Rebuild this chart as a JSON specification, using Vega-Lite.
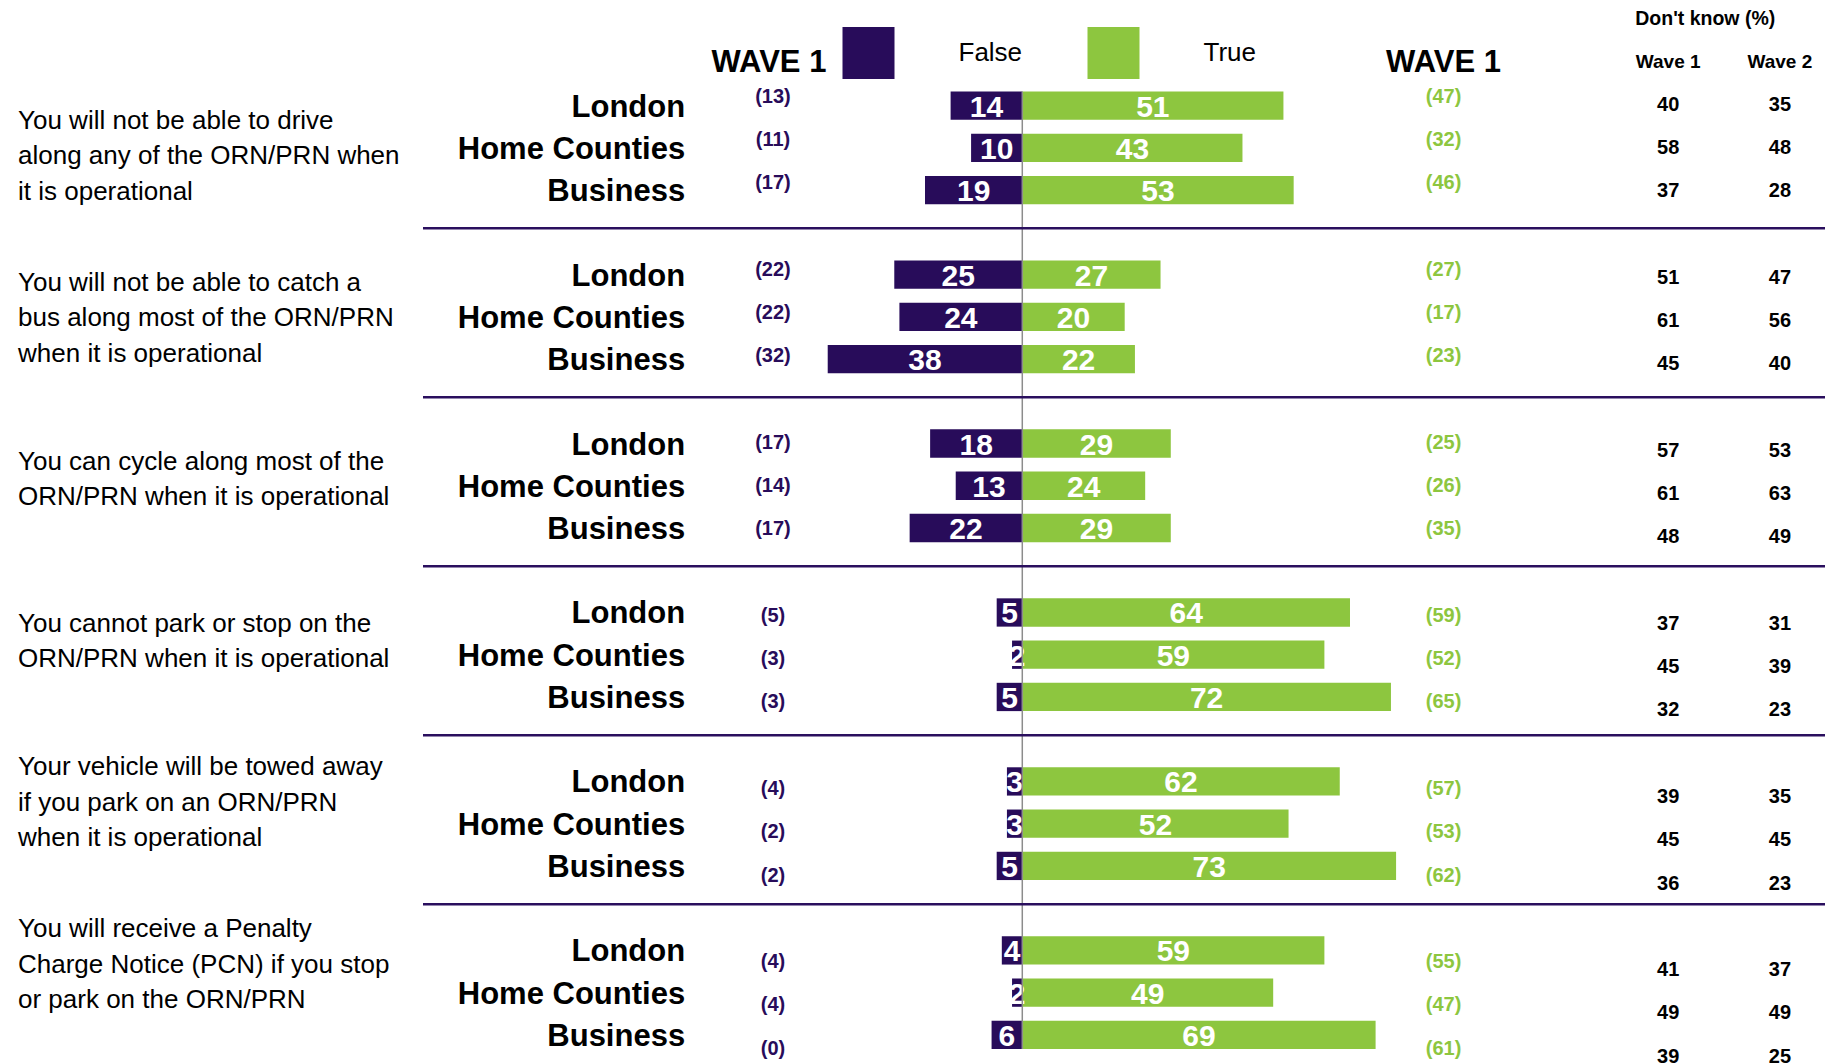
{
  "$schema": "https://vega.github.io/schema/vega-lite/v6.json",
  "background": "white",
  "padding": {"left": 18, "top": 0, "right": 0, "bottom": 0},
  "spacing": 0,
  "bounds": "flush",
  "config": {
    "view": {"stroke": null},
    "font": "Liberation Sans",
    "text": {"font": "Liberation Sans"},
    "axis": {"disable": true}
  },
  "datasets": {
    "rows": [
      {"row": "Q1 London", "group": "London", "falsePct": 14, "truePct": 51, "nFalse": 13, "nTrue": 47, "dk1": 40, "dk2": 35},
      {"row": "Q1 Home Counties", "group": "Home Counties", "falsePct": 10, "truePct": 43, "nFalse": 11, "nTrue": 32, "dk1": 58, "dk2": 48},
      {"row": "Q1 Business", "group": "Business", "falsePct": 19, "truePct": 53, "nFalse": 17, "nTrue": 46, "dk1": 37, "dk2": 28},
      {"row": "Q2 London", "group": "London", "falsePct": 25, "truePct": 27, "nFalse": 22, "nTrue": 27, "dk1": 51, "dk2": 47},
      {"row": "Q2 Home Counties", "group": "Home Counties", "falsePct": 24, "truePct": 20, "nFalse": 22, "nTrue": 17, "dk1": 61, "dk2": 56},
      {"row": "Q2 Business", "group": "Business", "falsePct": 38, "truePct": 22, "nFalse": 32, "nTrue": 23, "dk1": 45, "dk2": 40},
      {"row": "Q3 London", "group": "London", "falsePct": 18, "truePct": 29, "nFalse": 17, "nTrue": 25, "dk1": 57, "dk2": 53},
      {"row": "Q3 Home Counties", "group": "Home Counties", "falsePct": 13, "truePct": 24, "nFalse": 14, "nTrue": 26, "dk1": 61, "dk2": 63},
      {"row": "Q3 Business", "group": "Business", "falsePct": 22, "truePct": 29, "nFalse": 17, "nTrue": 35, "dk1": 48, "dk2": 49},
      {"row": "Q4 London", "group": "London", "falsePct": 5, "truePct": 64, "nFalse": 5, "nTrue": 59, "dk1": 37, "dk2": 31},
      {"row": "Q4 Home Counties", "group": "Home Counties", "falsePct": 2, "truePct": 59, "nFalse": 3, "nTrue": 52, "dk1": 45, "dk2": 39},
      {"row": "Q4 Business", "group": "Business", "falsePct": 5, "truePct": 72, "nFalse": 3, "nTrue": 65, "dk1": 32, "dk2": 23},
      {"row": "Q5 London", "group": "London", "falsePct": 3, "truePct": 62, "nFalse": 4, "nTrue": 57, "dk1": 39, "dk2": 35},
      {"row": "Q5 Home Counties", "group": "Home Counties", "falsePct": 3, "truePct": 52, "nFalse": 2, "nTrue": 53, "dk1": 45, "dk2": 45},
      {"row": "Q5 Business", "group": "Business", "falsePct": 5, "truePct": 73, "nFalse": 2, "nTrue": 62, "dk1": 36, "dk2": 23},
      {"row": "Q6 London", "group": "London", "falsePct": 4, "truePct": 59, "nFalse": 4, "nTrue": 55, "dk1": 41, "dk2": 37},
      {"row": "Q6 Home Counties", "group": "Home Counties", "falsePct": 2, "truePct": 49, "nFalse": 4, "nTrue": 47, "dk1": 49, "dk2": 49},
      {"row": "Q6 Business", "group": "Business", "falsePct": 6, "truePct": 69, "nFalse": 0, "nTrue": 61, "dk1": 39, "dk2": 25}
    ],
    "seps": [{"row": "gap1"}, {"row": "gap2"}, {"row": "gap3"}, {"row": "gap4"}, {"row": "gap5"}],
    "questions": [
      {"q": "Q1", "text": "You will not be able to drive\nalong any of the ORN/PRN when\nit is operational"},
      {"q": "Q2", "text": "You will not be able to catch a\nbus along most of the ORN/PRN\nwhen it is operational"},
      {"q": "Q3", "text": "You can cycle along most of the\nORN/PRN when it is operational"},
      {"q": "Q4", "text": "You cannot park or stop on the\nORN/PRN when it is operational"},
      {"q": "Q5", "text": "Your vehicle will be towed away\nif you park on an ORN/PRN\nwhen it is operational"},
      {"q": "Q6", "text": "You will receive a Penalty\nCharge Notice (PCN) if you stop\nor park on the ORN/PRN"}
    ]
  },
  "hconcat": [
    {
      "width": 405,
      "height": 1056,
      "data": {"name": "questions"},
      "layer": [
        {
          "transform": [{"filter": {"field": "q", "oneOf": ["Q1", "Q2", "Q5", "Q6"]}}],
          "mark": {"type": "text", "align": "left", "baseline": "middle", "fontSize": 26, "lineHeight": 35.5, "lineBreak": "\n", "fill": "black", "dy": -35.5},
          "encoding": {
            "x": {"value": 0},
            "y": {"field": "q", "type": "nominal", "axis": null, "scale": {"type": "point", "domain": ["Q1", "Q2", "Q3", "Q4", "Q5", "Q6"], "padding": 0.767, "align": 0.631}},
            "text": {"field": "text"}
          }
        },
        {
          "transform": [{"filter": {"field": "q", "oneOf": ["Q3", "Q4"]}}],
          "mark": {"type": "text", "align": "left", "baseline": "middle", "fontSize": 26, "lineHeight": 35.5, "lineBreak": "\n", "fill": "black", "dy": -17.75},
          "encoding": {
            "x": {"value": 0},
            "y": {"field": "q", "type": "nominal", "axis": null, "scale": {"type": "point", "domain": ["Q1", "Q2", "Q3", "Q4", "Q5", "Q6"], "padding": 0.767, "align": 0.631}},
            "text": {"field": "text"}
          }
        }
      ]
    },
    {
      "width": 264,
      "height": 1056,
      "encoding": {
        "y": {"field": "row", "type": "nominal", "axis": null, "scale": {"type": "band", "domain": ["top", "header", "Q1 London", "Q1 Home Counties", "Q1 Business", "gap1", "Q2 London", "Q2 Home Counties", "Q2 Business", "gap2", "Q3 London", "Q3 Home Counties", "Q3 Business", "gap3", "Q4 London", "Q4 Home Counties", "Q4 Business", "gap4", "Q5 London", "Q5 Home Counties", "Q5 Business", "gap5", "Q6 London", "Q6 Home Counties", "Q6 Business"], "paddingInner": 0.33, "paddingOuter": 0.165}}
      },
      "layer": [
        {
          "data": {"name": "rows"},
          "mark": {"type": "text", "align": "right", "baseline": "middle", "fontSize": 31, "fontWeight": "bold", "fill": "black", "dy": 2},
          "encoding": {
            "x": {"datum": "label", "type": "nominal", "axis": null, "scale": {"type": "point", "domain": ["label"], "align": 0.993}},
            "text": {"field": "group"}
          }
        },
        {
          "data": {"name": "seps"},
          "mark": {"type": "rule", "stroke": "#2a0f5e", "strokeWidth": 2.5},
          "encoding": {
            "y": {"field": "row", "type": "nominal", "axis": null, "bandPosition": 0.36}
          }
        }
      ]
    },
    {
      "width": 140,
      "height": 1056,
      "resolve": {"scale": {"y": "independent"}},
      "layer": [
        {
          "data": {"name": "rows"},
          "mark": {"type": "text", "align": "center", "baseline": "middle", "fontSize": 20, "fontWeight": "bold", "fill": "#280c5a", "dy": -7},
          "encoding": {
            "x": {"datum": "n", "type": "nominal", "axis": null, "scale": {"type": "point", "domain": ["n"], "align": 0.614}},
            "y": {"field": "row", "type": "nominal", "axis": null, "scale": {"type": "point", "domain": ["top", "header", "Q1 London", "Q1 Home Counties", "Q1 Business", "gap1", "Q2 London", "Q2 Home Counties", "Q2 Business", "gap2", "Q3 London", "Q3 Home Counties", "Q3 Business", "gap3", "Q4 London", "Q4 Home Counties", "Q4 Business", "gap4", "Q5 London", "Q5 Home Counties", "Q5 Business", "gap5", "Q6 London", "Q6 Home Counties", "Q6 Business"], "padding": 0.2, "align": 0.982}},
            "text": {"value": {"expr": "'(' + datum.nFalse + ')'"}}
          }
        },
        {
          "data": {"values": [{"row": "header", "label": "WAVE 1"}]},
          "mark": {"type": "text", "align": "center", "baseline": "middle", "fontSize": 31, "fontWeight": "bold", "fill": "black", "dy": 3, "dx": -4},
          "encoding": {
            "x": {"datum": "n", "type": "nominal", "axis": null, "scale": {"type": "point", "domain": ["n"], "align": 0.614}},
            "y": {"field": "row", "type": "nominal", "axis": null, "scale": {"type": "point", "domain": ["top", "header", "Q1 London", "Q1 Home Counties", "Q1 Business", "gap1", "Q2 London", "Q2 Home Counties", "Q2 Business", "gap2", "Q3 London", "Q3 Home Counties", "Q3 Business", "gap3", "Q4 London", "Q4 Home Counties", "Q4 Business", "gap4", "Q5 London", "Q5 Home Counties", "Q5 Business", "gap5", "Q6 London", "Q6 Home Counties", "Q6 Business"], "padding": 0.2, "align": 0.982}},
            "text": {"field": "label"}
          }
        },
        {
          "data": {"name": "seps"},
          "mark": {"type": "rule", "stroke": "#2a0f5e", "strokeWidth": 2.5},
          "encoding": {
            "y": {"field": "row", "type": "nominal", "axis": null, "bandPosition": 0.36, "scale": {"type": "band", "domain": ["top", "header", "Q1 London", "Q1 Home Counties", "Q1 Business", "gap1", "Q2 London", "Q2 Home Counties", "Q2 Business", "gap2", "Q3 London", "Q3 Home Counties", "Q3 Business", "gap3", "Q4 London", "Q4 Home Counties", "Q4 Business", "gap4", "Q5 London", "Q5 Home Counties", "Q5 Business", "gap5", "Q6 London", "Q6 Home Counties", "Q6 Business"], "paddingInner": 0.33, "paddingOuter": 0.165}}
          }
        }
      ]
    },
    {
      "width": 570,
      "height": 1056,
      "resolve": {"scale": {"x": "independent"}},
      "encoding": {
        "y": {"field": "row", "type": "nominal", "axis": null, "scale": {"type": "band", "domain": ["top", "header", "Q1 London", "Q1 Home Counties", "Q1 Business", "gap1", "Q2 London", "Q2 Home Counties", "Q2 Business", "gap2", "Q3 London", "Q3 Home Counties", "Q3 Business", "gap3", "Q4 London", "Q4 Home Counties", "Q4 Business", "gap4", "Q5 London", "Q5 Home Counties", "Q5 Business", "gap5", "Q6 London", "Q6 Home Counties", "Q6 Business"], "paddingInner": 0.33, "paddingOuter": 0.165}}
      },
      "layer": [
        {
          "data": {"name": "rows"},
          "mark": {"type": "bar"},
          "encoding": {
            "x": {"field": "falsePct", "type": "quantitative", "axis": null, "scale": {"domain": [-73.18, 38.14], "reverse": true, "nice": false, "zero": false}},
            "color": {"datum": "False", "type": "nominal", "scale": {"domain": ["False", "True"], "range": ["#280c5a", "#8dc63f"]}, "legend": {"title": null, "orient": "none", "legendX": 824.5, "legendY": 27, "direction": "horizontal", "symbolType": "square", "symbolSize": 2704, "symbolStrokeWidth": 0, "symbolOpacity": 1, "labelFontSize": 26, "labelFont": "Liberation Sans", "labelColor": "black", "labelOffset": 64, "columnPadding": 65, "padding": 0, "labelLimit": 0}}
          }
        },
        {
          "data": {"name": "rows"},
          "mark": {"type": "bar"},
          "encoding": {
            "x": {"field": "truePct", "type": "quantitative", "axis": null, "scale": {"domain": [-38.14, 73.18], "nice": false, "zero": false}},
            "color": {"datum": "True", "type": "nominal", "scale": {"domain": ["False", "True"], "range": ["#280c5a", "#8dc63f"]}, "legend": {"title": null, "orient": "none", "legendX": 824.5, "legendY": 27, "direction": "horizontal", "symbolType": "square", "symbolSize": 2704, "symbolStrokeWidth": 0, "symbolOpacity": 1, "labelFontSize": 26, "labelFont": "Liberation Sans", "labelColor": "black", "labelOffset": 64, "columnPadding": 65, "padding": 0, "labelLimit": 0}}
          }
        },
        {
          "data": {"name": "rows"},
          "mark": {"type": "text", "align": "center", "baseline": "middle", "fontSize": 30, "fontWeight": "bold", "fill": "white", "dy": 2},
          "encoding": {
            "x": {"field": "falsePct", "type": "quantitative", "stack": "zero", "bandPosition": 0.5, "axis": null, "scale": {"domain": [-73.18, 38.14], "reverse": true, "nice": false, "zero": false}},
            "text": {"field": "falsePct", "type": "quantitative"}
          }
        },
        {
          "data": {"name": "rows"},
          "mark": {"type": "text", "align": "center", "baseline": "middle", "fontSize": 30, "fontWeight": "bold", "fill": "white", "dy": 2},
          "encoding": {
            "x": {"field": "truePct", "type": "quantitative", "stack": "zero", "bandPosition": 0.5, "axis": null, "scale": {"domain": [-38.14, 73.18], "nice": false, "zero": false}},
            "text": {"field": "truePct", "type": "quantitative"}
          }
        },
        {
          "data": {"values": [{"from": "Q1 London", "to": "Q6 Business"}]},
          "mark": {"type": "rule", "stroke": "#8c8c8c", "strokeWidth": 1.5},
          "encoding": {
            "x": {"datum": 0, "type": "quantitative", "axis": null, "scale": {"domain": [-38.14, 73.18], "nice": false, "zero": false}},
            "y": {"field": "from", "type": "nominal", "axis": null, "bandPosition": 0},
            "y2": {"field": "to", "bandPosition": 1}
          }
        },
        {
          "data": {"name": "seps"},
          "mark": {"type": "rule", "stroke": "#2a0f5e", "strokeWidth": 2.5},
          "encoding": {
            "y": {"field": "row", "type": "nominal", "axis": null, "bandPosition": 0.36}
          }
        }
      ]
    },
    {
      "width": 93,
      "height": 1056,
      "resolve": {"scale": {"y": "independent"}},
      "layer": [
        {
          "data": {"name": "rows"},
          "mark": {"type": "text", "align": "center", "baseline": "middle", "fontSize": 20, "fontWeight": "bold", "fill": "#8dc63f", "dy": -7},
          "encoding": {
            "x": {"datum": "n", "type": "nominal", "axis": null, "scale": {"type": "point", "domain": ["n"], "align": 0.5}},
            "y": {"field": "row", "type": "nominal", "axis": null, "scale": {"type": "point", "domain": ["top", "header", "Q1 London", "Q1 Home Counties", "Q1 Business", "gap1", "Q2 London", "Q2 Home Counties", "Q2 Business", "gap2", "Q3 London", "Q3 Home Counties", "Q3 Business", "gap3", "Q4 London", "Q4 Home Counties", "Q4 Business", "gap4", "Q5 London", "Q5 Home Counties", "Q5 Business", "gap5", "Q6 London", "Q6 Home Counties", "Q6 Business"], "padding": 0.2, "align": 0.982}},
            "text": {"value": {"expr": "'(' + datum.nTrue + ')'"}}
          }
        },
        {
          "data": {"values": [{"row": "header", "label": "WAVE 1"}]},
          "mark": {"type": "text", "align": "center", "baseline": "middle", "fontSize": 31, "fontWeight": "bold", "fill": "black", "dy": 3},
          "encoding": {
            "x": {"datum": "n", "type": "nominal", "axis": null, "scale": {"type": "point", "domain": ["n"], "align": 0.5}},
            "y": {"field": "row", "type": "nominal", "axis": null, "scale": {"type": "point", "domain": ["top", "header", "Q1 London", "Q1 Home Counties", "Q1 Business", "gap1", "Q2 London", "Q2 Home Counties", "Q2 Business", "gap2", "Q3 London", "Q3 Home Counties", "Q3 Business", "gap3", "Q4 London", "Q4 Home Counties", "Q4 Business", "gap4", "Q5 London", "Q5 Home Counties", "Q5 Business", "gap5", "Q6 London", "Q6 Home Counties", "Q6 Business"], "padding": 0.2, "align": 0.982}},
            "text": {"field": "label"}
          }
        },
        {
          "data": {"name": "seps"},
          "mark": {"type": "rule", "stroke": "#2a0f5e", "strokeWidth": 2.5},
          "encoding": {
            "y": {"field": "row", "type": "nominal", "axis": null, "bandPosition": 0.36, "scale": {"type": "band", "domain": ["top", "header", "Q1 London", "Q1 Home Counties", "Q1 Business", "gap1", "Q2 London", "Q2 Home Counties", "Q2 Business", "gap2", "Q3 London", "Q3 Home Counties", "Q3 Business", "gap3", "Q4 London", "Q4 Home Counties", "Q4 Business", "gap4", "Q5 London", "Q5 Home Counties", "Q5 Business", "gap5", "Q6 London", "Q6 Home Counties", "Q6 Business"], "paddingInner": 0.33, "paddingOuter": 0.165}}
          }
        }
      ]
    },
    {
      "width": 335,
      "height": 1056,
      "resolve": {"scale": {"y": "independent"}},
      "layer": [
        {
          "data": {"name": "rows"},
          "mark": {"type": "text", "align": "center", "baseline": "middle", "fontSize": 20, "fontWeight": "bold", "fill": "black", "dy": 1},
          "encoding": {
            "x": {"datum": "Wave 1", "type": "nominal", "axis": null, "scale": {"type": "point", "domain": ["Wave 1", "Wave 2"], "padding": 1, "align": 0.798}},
            "y": {"field": "row", "type": "nominal", "axis": null, "scale": {"type": "point", "domain": ["top", "header", "Q1 London", "Q1 Home Counties", "Q1 Business", "gap1", "Q2 London", "Q2 Home Counties", "Q2 Business", "gap2", "Q3 London", "Q3 Home Counties", "Q3 Business", "gap3", "Q4 London", "Q4 Home Counties", "Q4 Business", "gap4", "Q5 London", "Q5 Home Counties", "Q5 Business", "gap5", "Q6 London", "Q6 Home Counties", "Q6 Business"], "padding": 0.2, "align": 0.982}},
            "text": {"field": "dk1", "type": "quantitative"}
          }
        },
        {
          "data": {"name": "rows"},
          "mark": {"type": "text", "align": "center", "baseline": "middle", "fontSize": 20, "fontWeight": "bold", "fill": "black", "dy": 1},
          "encoding": {
            "x": {"datum": "Wave 2", "type": "nominal", "axis": null, "scale": {"type": "point", "domain": ["Wave 1", "Wave 2"], "padding": 1, "align": 0.798}},
            "y": {"field": "row", "type": "nominal", "axis": null, "scale": {"type": "point", "domain": ["top", "header", "Q1 London", "Q1 Home Counties", "Q1 Business", "gap1", "Q2 London", "Q2 Home Counties", "Q2 Business", "gap2", "Q3 London", "Q3 Home Counties", "Q3 Business", "gap3", "Q4 London", "Q4 Home Counties", "Q4 Business", "gap4", "Q5 London", "Q5 Home Counties", "Q5 Business", "gap5", "Q6 London", "Q6 Home Counties", "Q6 Business"], "padding": 0.2, "align": 0.982}},
            "text": {"field": "dk2", "type": "quantitative"}
          }
        },
        {
          "data": {"values": [{"row": "header", "col": "Wave 1"}, {"row": "header", "col": "Wave 2"}]},
          "mark": {"type": "text", "align": "center", "baseline": "middle", "fontSize": 19, "fontWeight": "bold", "fill": "black", "dy": 2},
          "encoding": {
            "x": {"field": "col", "type": "nominal", "axis": null, "scale": {"type": "point", "domain": ["Wave 1", "Wave 2"], "padding": 1, "align": 0.798}},
            "y": {"field": "row", "type": "nominal", "axis": null, "scale": {"type": "point", "domain": ["top", "header", "Q1 London", "Q1 Home Counties", "Q1 Business", "gap1", "Q2 London", "Q2 Home Counties", "Q2 Business", "gap2", "Q3 London", "Q3 Home Counties", "Q3 Business", "gap3", "Q4 London", "Q4 Home Counties", "Q4 Business", "gap4", "Q5 London", "Q5 Home Counties", "Q5 Business", "gap5", "Q6 London", "Q6 Home Counties", "Q6 Business"], "padding": 0.2, "align": 0.982}},
            "text": {"field": "col"}
          }
        },
        {
          "data": {"values": [{"row": "top", "col": "Wave 1", "label": "Don't know (%)"}]},
          "mark": {"type": "text", "align": "left", "baseline": "middle", "fontSize": 19.5, "fontWeight": "bold", "fill": "black", "dy": 2, "dx": -33},
          "encoding": {
            "x": {"field": "col", "type": "nominal", "axis": null, "scale": {"type": "point", "domain": ["Wave 1", "Wave 2"], "padding": 1, "align": 0.798}},
            "y": {"field": "row", "type": "nominal", "axis": null, "scale": {"type": "point", "domain": ["top", "header", "Q1 London", "Q1 Home Counties", "Q1 Business", "gap1", "Q2 London", "Q2 Home Counties", "Q2 Business", "gap2", "Q3 London", "Q3 Home Counties", "Q3 Business", "gap3", "Q4 London", "Q4 Home Counties", "Q4 Business", "gap4", "Q5 London", "Q5 Home Counties", "Q5 Business", "gap5", "Q6 London", "Q6 Home Counties", "Q6 Business"], "padding": 0.2, "align": 0.982}},
            "text": {"field": "label"}
          }
        },
        {
          "data": {"name": "seps"},
          "mark": {"type": "rule", "stroke": "#2a0f5e", "strokeWidth": 2.5},
          "encoding": {
            "y": {"field": "row", "type": "nominal", "axis": null, "bandPosition": 0.36, "scale": {"type": "band", "domain": ["top", "header", "Q1 London", "Q1 Home Counties", "Q1 Business", "gap1", "Q2 London", "Q2 Home Counties", "Q2 Business", "gap2", "Q3 London", "Q3 Home Counties", "Q3 Business", "gap3", "Q4 London", "Q4 Home Counties", "Q4 Business", "gap4", "Q5 London", "Q5 Home Counties", "Q5 Business", "gap5", "Q6 London", "Q6 Home Counties", "Q6 Business"], "paddingInner": 0.33, "paddingOuter": 0.165}}
          }
        }
      ]
    }
  ]
}
